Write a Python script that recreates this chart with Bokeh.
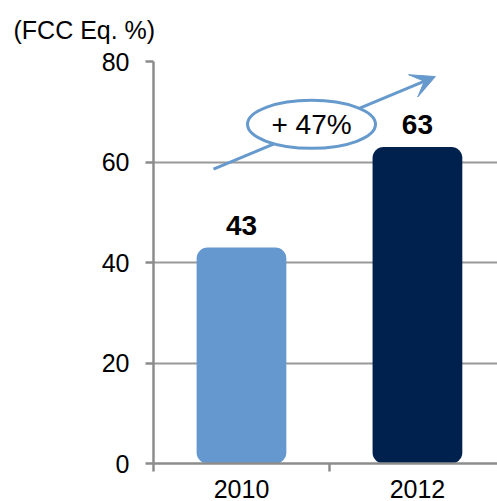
from bokeh.plotting import figure
from bokeh.models import (Range1d, FixedTicker, LinearAxis, Grid, Arrow, VeeHead,
                          ColumnDataSource)
from bokeh.core.properties import value
from bokeh.embed import file_html
from bokeh.resources import INLINE

# ---- data ----
categories = ["2010", "2012"]
values = [43, 63]
bar_colors = ["#6498CE", "#00214D"]
y_ticks = [0, 20, 40, 60, 80]
growth_label = "+ 47%"
unit_label = "(FCC Eq. %)"

# ---- styling / annotation positions ----
FONT = "Liberation Sans"
AXIS_COLOR = "#8C8C8C"
GRID_COLOR = "#999999"
ACCENT = "#6699CC"
arrow_start = (0.341, 58.6)
arrow_end = (1.602, 77.0)
ellipse_center = (0.898, 67.5)

x_pos = [i + 0.5 for i in range(len(categories))]
src = ColumnDataSource(dict(x=x_pos, top=values, color=bar_colors,
                            label=[str(v) for v in values]))

p = figure(width=497, height=501, output_backend="svg", toolbar_location=None,
           x_range=Range1d(0, 1.955), y_range=Range1d(0, 80),
           x_axis_location=None, y_axis_location=None,
           min_border_left=153, min_border_right=0,
           min_border_top=60, min_border_bottom=38)
p.outline_line_color = None
p.background_fill_color = "white"
p.center = []

# title
p.title.text = unit_label
p.title.align = "left"
p.title.vertical_align = "top"
p.title.offset = -140
p.title.text_font = FONT
p.title.text_font_size = "25px"
p.title.text_font_style = "normal"
p.title.text_color = "black"
p.title.standoff = 31

# y axis
yaxis = LinearAxis(ticker=FixedTicker(ticks=y_ticks),
                   major_tick_out=8, major_tick_in=0,
                   minor_tick_out=0, minor_tick_in=0,
                   axis_line_color=AXIS_COLOR, axis_line_width=2.5,
                   major_tick_line_color=AXIS_COLOR, major_tick_line_width=2.5,
                   major_label_text_font=FONT, major_label_text_font_size="25px",
                   major_label_text_color="black", major_label_standoff=16)
p.add_layout(yaxis, "left")

# x axis (category boundaries as minor ticks)
xaxis = LinearAxis(ticker=FixedTicker(ticks=x_pos, minor_ticks=list(range(len(categories) + 1))),
                   major_tick_out=0, major_tick_in=0,
                   minor_tick_out=8, minor_tick_in=0,
                   axis_line_color=AXIS_COLOR, axis_line_width=2.5,
                   minor_tick_line_color=AXIS_COLOR, minor_tick_line_width=2.5,
                   major_label_overrides={x: c for x, c in zip(x_pos, categories)},
                   major_label_text_font=FONT, major_label_text_font_size="25px",
                   major_label_text_color="black", major_label_standoff=8)
p.add_layout(xaxis, "below")

grid = Grid(dimension=1, ticker=FixedTicker(ticks=[t for t in y_ticks if t > 0]),
            grid_line_color=GRID_COLOR, grid_line_width=2)
p.add_layout(grid)

# bars
p.vbar(x="x", top="top", bottom=0, width=0.51, fill_color="color", line_color=None,
       border_radius=11, source=src)

# value labels
p.text(x="x", y="top", text="label", source=src, text_align="center",
       text_baseline="alphabetic", y_offset=-22,
       text_font=value(FONT), text_font_size="28px", text_font_style="bold",
       text_color="black")

# growth arrow + ellipse
p.add_layout(Arrow(x_start=arrow_start[0], y_start=arrow_start[1],
                   x_end=arrow_end[0], y_end=arrow_end[1],
                   line_color=ACCENT, line_width=3,
                   end=VeeHead(size=24, fill_color=ACCENT, line_color=ACCENT, line_width=1)))
e = p.ellipse(x=[ellipse_center[0]], y=[ellipse_center[1]],
              width=128, height=48, width_units="screen", height_units="screen",
              fill_color="white", line_color=ACCENT, line_width=3)
e.level = "overlay"
t = p.text(x=[ellipse_center[0]], y=[ellipse_center[1]], text=[growth_label],
           text_align="center", text_baseline="middle",
           text_font=value(FONT), text_font_size="28px", text_color="black")
t.level = "overlay"

open("out.html", "w").write(file_html(p, INLINE))
